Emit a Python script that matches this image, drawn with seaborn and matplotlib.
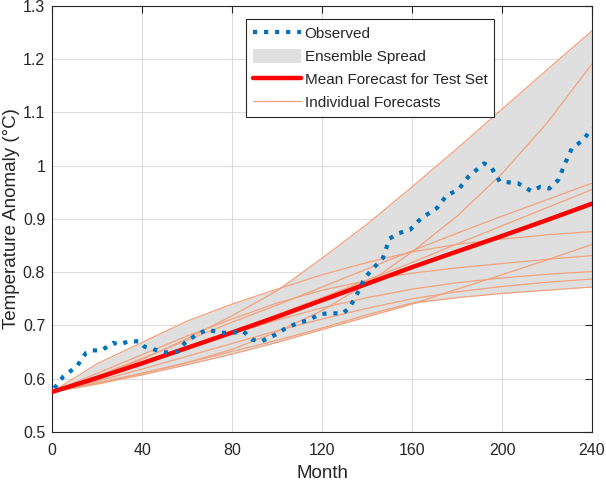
import numpy as np
import pandas as pd
import seaborn as sns
import matplotlib.pyplot as plt
from matplotlib.lines import Line2D
from matplotlib.patches import Patch
from matplotlib.ticker import FuncFormatter

# Observed anomaly
obs_month = [1, 5, 11, 15, 18, 22, 27, 30, 34, 39, 41, 45, 51, 56, 59, 64, 69, 75, 80, 85,
             89, 93, 99, 104, 109, 114, 119, 124, 129, 132, 135, 139, 142, 147, 150, 154,
             159, 164, 171, 175, 181, 185, 192, 195, 199, 207, 213, 217, 221, 225, 228,
             231, 236, 240]
obs_temp = [0.582, 0.604, 0.623, 0.648, 0.653, 0.653, 0.667, 0.664, 0.670, 0.670, 0.660,
            0.655, 0.649, 0.651, 0.667, 0.682, 0.692, 0.686, 0.686, 0.689, 0.673, 0.670,
            0.682, 0.695, 0.704, 0.710, 0.721, 0.723, 0.722, 0.732, 0.754, 0.789, 0.804,
            0.826, 0.863, 0.873, 0.879, 0.901, 0.920, 0.942, 0.957, 0.979, 1.004, 0.998,
            0.970, 0.967, 0.952, 0.960, 0.957, 0.973, 1.004, 1.032, 1.048, 1.070]

# Ensemble members, sampled every 20 months
fc_month = [0, 20, 40, 60, 80, 100, 120, 140, 160, 180, 200, 220, 240]
member_1 = [0.575, 0.603, 0.636, 0.675, 0.718, 0.765, 0.826, 0.890, 0.960, 1.032, 1.106, 1.180, 1.253]
member_2 = [0.575, 0.592, 0.610, 0.630, 0.655, 0.688, 0.728, 0.778, 0.838, 0.905, 0.985, 1.080, 1.191]
member_3 = [0.575, 0.605, 0.638, 0.672, 0.706, 0.738, 0.772, 0.806, 0.840, 0.873, 0.905, 0.936, 0.967]
member_4 = [0.575, 0.600, 0.628, 0.658, 0.688, 0.720, 0.752, 0.785, 0.818, 0.853, 0.887, 0.921, 0.955]
member_5 = [0.575, 0.628, 0.668, 0.708, 0.740, 0.768, 0.795, 0.818, 0.838, 0.852, 0.862, 0.870, 0.876]
member_6 = [0.575, 0.590, 0.607, 0.626, 0.646, 0.668, 0.692, 0.716, 0.740, 0.768, 0.795, 0.823, 0.852]
member_7 = [0.575, 0.610, 0.645, 0.680, 0.712, 0.742, 0.766, 0.784, 0.798, 0.808, 0.816, 0.824, 0.831]
member_8 = [0.575, 0.600, 0.628, 0.656, 0.684, 0.710, 0.733, 0.752, 0.768, 0.780, 0.789, 0.796, 0.801]
member_9 = [0.575, 0.595, 0.618, 0.642, 0.666, 0.690, 0.712, 0.732, 0.750, 0.763, 0.773, 0.781, 0.787]
member_10 = [0.575, 0.590, 0.610, 0.630, 0.651, 0.672, 0.695, 0.720, 0.742, 0.752, 0.760, 0.766, 0.772]
members = [member_1, member_2, member_3, member_4, member_5,
           member_6, member_7, member_8, member_9, member_10]

fc = pd.DataFrame([
    {"month": m, "temp": v, "member": i}
    for i, vals in enumerate(members) for m, v in zip(fc_month, vals)
])
obs = pd.DataFrame({"month": obs_month, "temp": obs_temp})
spread = fc.groupby("month")["temp"].agg(["min", "max"]).reset_index()

sns.set_theme(style="whitegrid")
plt.rcParams["font.family"] = ["Liberation Sans", "DejaVu Sans"]

fig = plt.figure(figsize=(6.06, 4.82), dpi=100)
ax = fig.add_axes([0.086, 0.104, 0.891, 0.884])

c_obs = "#0072BD"
c_ind = "#F4A27E"
c_fill = "#DFDFDF"

ax.fill_between(spread["month"], spread["min"], spread["max"], color=c_fill, lw=0, zorder=1)
sns.lineplot(data=fc, x="month", y="temp", units="member", estimator=None,
             color=c_ind, lw=0.9, ax=ax, zorder=2)
# mean of the ensemble, seaborn's default estimator
sns.lineplot(data=fc, x="month", y="temp", errorbar=None, color="#FF0000", lw=3.2, ax=ax, zorder=3)
sns.lineplot(data=obs, x="month", y="temp", color=c_obs, lw=3, ls=":", ax=ax, zorder=4)

ax.set_xlim(0, 240)
ax.set_ylim(0.5, 1.3)
ax.set_xticks(np.arange(0, 241, 40))
ax.set_yticks(np.arange(0.5, 1.31, 0.1))
ax.yaxis.set_major_formatter(FuncFormatter(lambda v, p: f"{v:g}"))
ax.set_xlabel("Month", fontsize=13.5, color="#262626", labelpad=5)
ax.set_ylabel("Temperature Anomaly (°C)", fontsize=13.5, color="#262626", labelpad=2)

ax.set_facecolor("white")
ax.grid(True, color="#DCDCDC", lw=0.8)
ax.set_axisbelow(True)
for s in ax.spines.values():
    s.set_visible(True)
    s.set_color("#262626")
    s.set_linewidth(0.8)
ax.tick_params(direction="in", length=5, width=0.8, top=True, right=True,
               labelsize=11.5, colors="#262626")
ax.tick_params(axis="x", pad=8)
ax.tick_params(axis="y", pad=5)

handles = [
    Line2D([], [], color=c_obs, lw=3, ls=":"),
    Patch(facecolor=c_fill, edgecolor="none"),
    Line2D([], [], color="#FF0000", lw=3.2),
    Line2D([], [], color=c_ind, lw=0.9),
]
labels = ["Observed", "Ensemble Spread", "Mean Forecast for Test Set", "Individual Forecasts"]
leg = ax.legend(handles, labels, loc="upper left", bbox_to_anchor=(0.36, 0.97),
                fontsize=11, frameon=True, fancybox=False, framealpha=1,
                borderpad=0.45, labelspacing=0.5, handlelength=3.1, handletextpad=0.25,
                borderaxespad=0, handleheight=1.1)
leg.get_frame().set_edgecolor("#262626")
leg.get_frame().set_linewidth(0.8)

fig.savefig("out.png", dpi=100)
